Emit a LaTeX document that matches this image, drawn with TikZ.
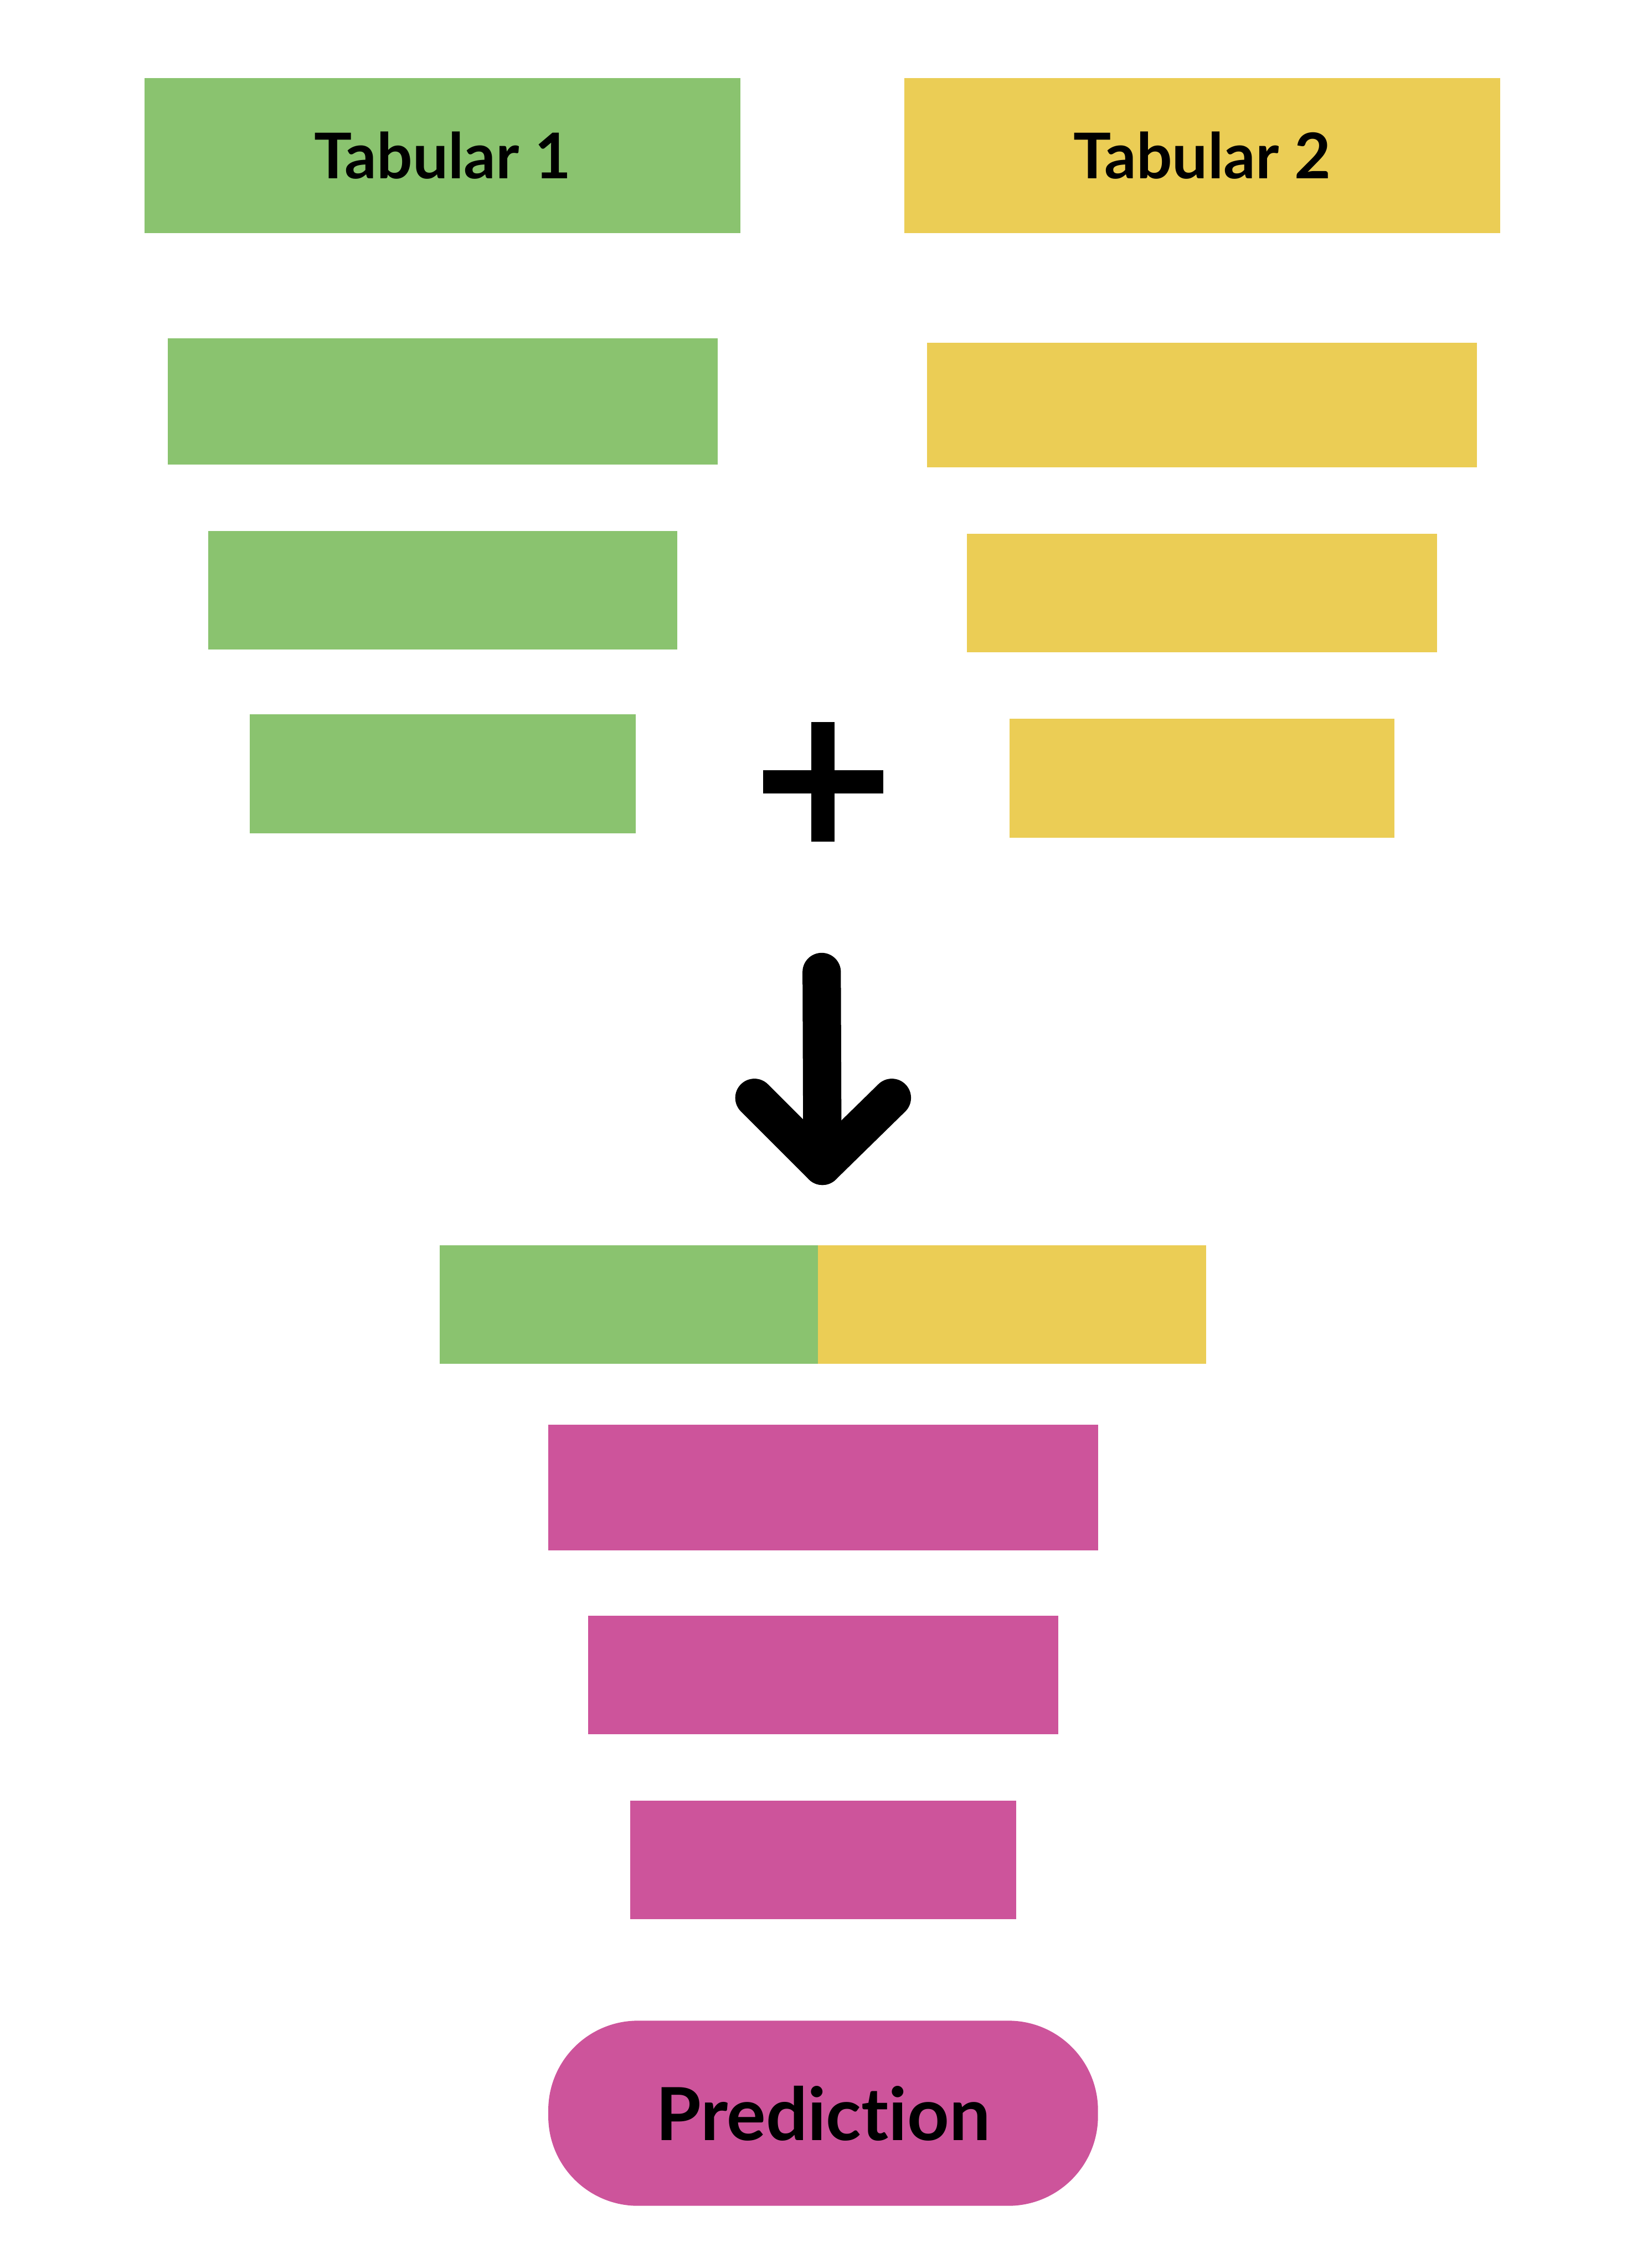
\documentclass[tikz,border=0pt]{standalone}
\usepackage{fontspec}
\setmainfont{Lato}[Ligatures={NoCommon}]
\usepackage{tikz}
\usetikzlibrary{positioning}
\definecolor{leafgreen}{RGB}{138,195,111}
\definecolor{mustard}{RGB}{235,205,85}
\definecolor{orchid}{RGB}{205,84,155}
\tikzset{
  bar/.style={draw=none,inner sep=0pt,outer sep=0pt,minimum height=0.82cm},
  head/.style={bar,minimum width=4.12cm,minimum height=1.07cm,font=\fontsize{12.4}{14}\selectfont\bfseries},
  gbar/.style={bar,fill=leafgreen},
  ybar/.style={bar,fill=mustard},
  pbar/.style={bar,fill=orchid},
  pill/.style={pbar,minimum width=3.8cm,minimum height=1.28cm,rounded corners=0.62cm,font=\fontsize{14.4}{16}\selectfont\bfseries},
  plusbar/.style={draw=black,line width=0.16cm},
  bigarrow/.style={draw=black,line width=0.265cm,line cap=round,line join=round}
}
\begin{document}
\begin{tikzpicture}[node distance=0.46cm]
  \useasboundingbox (0,0) rectangle (11.28,-15.68);
  % two tables
  \node[head,fill=leafgreen] (tab1) at (3.06,-1.075) {Tabular 1};
  \node[head,fill=mustard] (tab2) at (8.31,-1.075) {Tabular 2};
  \node[gbar,minimum width=3.8cm,minimum height=0.87cm,below=0.73cm of tab1] (g1) {};
  \node[gbar,minimum width=3.24cm,below=of g1] (g2) {};
  \node[gbar,minimum width=2.67cm,below=0.45cm of g2] (g3) {};
  \node[ybar,minimum width=3.8cm,minimum height=0.86cm,below=0.76cm of tab2] (y1) {};
  \node[ybar,minimum width=3.25cm,below=of y1] (y2) {};
  \node[ybar,minimum width=2.66cm,below=of y2] (y3) {};
  % plus
  \coordinate (plus) at (5.69,-5.405);
  \draw[plusbar] ([xshift=-0.415cm]plus) -- ([xshift=0.415cm]plus);
  \draw[plusbar] ([yshift=-0.415cm]plus) -- ([yshift=0.415cm]plus);
  % arrow
  \coordinate (arrtop) at (5.68,-6.72);
  \coordinate (arrtip) at (5.685,-8.06);
  \draw[bigarrow] (arrtop) -- (arrtip);
  \draw[bigarrow] ([shift={(-0.47,0.47)}]arrtip) -- (arrtip) -- ([shift={(0.48,0.47)}]arrtip);
  % joined and head
  \node[gbar,minimum width=2.63cm] (cg) at (4.355,-9.02) {};
  \node[ybar,minimum width=2.68cm,right=-0.4pt of cg] (cy) {};
  \node[pbar,minimum width=3.8cm,minimum height=0.87cm,below=0.42cm of cg.south east,anchor=north,xshift=0.02cm] (p1) {};
  \node[pbar,minimum width=3.25cm,below=0.45cm of p1] (p2) {};
  \node[pbar,minimum width=2.67cm,below=of p2] (p3) {};
  \node[pill,below=0.7cm of p3] (pred) {Prediction};
\end{tikzpicture}
\end{document}
